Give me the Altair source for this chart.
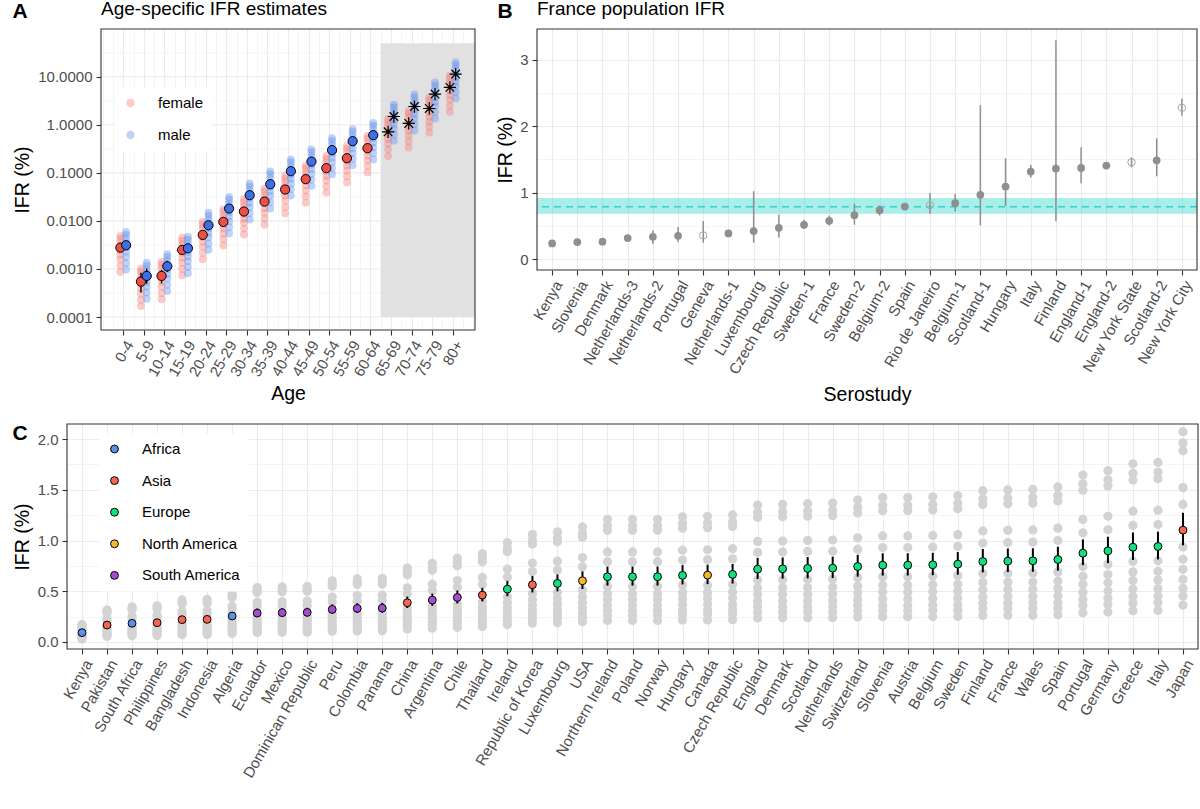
import altair as alt
import pandas as pd

FONT = "Liberation Sans"

# ---------------- Panel A : age-specific IFR ----------------
AGE_GROUPS = ["0-4", "5-9", "10-14", "15-19", "20-24", "25-29", "30-34", "35-39",
              "40-44", "45-49", "50-54", "55-59", "60-64", "65-69", "70-74", "75-79", "80+"]
# individual estimates as log10(IFR %)
A_FEMALE_LOG10 = [
    [-2.31, -2.37, -2.45, -2.53, -2.61, -2.70, -2.80, -2.93, -3.06],
    [-2.99, -3.05, -3.13, -3.22, -3.31, -3.40, -3.51, -3.64, -3.77],
    [-2.85, -2.91, -2.99, -3.08, -3.17, -3.26, -3.37, -3.50, -3.63],
    [-2.35, -2.41, -2.49, -2.58, -2.67, -2.76, -2.87, -3.00, -3.13],
    [-2.02, -2.08, -2.16, -2.25, -2.34, -2.43, -2.54, -2.67, -2.80],
    [-1.76, -1.82, -1.90, -1.98, -2.07, -2.16, -2.26, -2.38, -2.51],
    [-1.55, -1.61, -1.69, -1.77, -1.86, -1.95, -2.04, -2.16, -2.28],
    [-1.33, -1.39, -1.47, -1.55, -1.64, -1.73, -1.83, -1.95, -2.08],
    [-1.06, -1.12, -1.20, -1.29, -1.38, -1.47, -1.58, -1.71, -1.84],
    [-0.85, -0.91, -0.99, -1.08, -1.17, -1.26, -1.37, -1.49, -1.62],
    [-0.65, -0.71, -0.79, -0.88, -0.97, -1.06, -1.16, -1.28, -1.41],
    [-0.44, -0.50, -0.58, -0.67, -0.76, -0.85, -0.95, -1.07, -1.20],
    [-0.23, -0.29, -0.37, -0.46, -0.55, -0.64, -0.74, -0.86, -0.99],
    [0.12, 0.06, -0.02, -0.11, -0.20, -0.29, -0.39, -0.51, -0.65],
    [0.29, 0.23, 0.15, 0.06, -0.03, -0.12, -0.22, -0.34, -0.47],
    [0.57, 0.51, 0.43, 0.35, 0.26, 0.17, 0.07, -0.04, -0.16],
    [1.02, 0.96, 0.88, 0.80, 0.71, 0.62, 0.52, 0.40, 0.27],
]
A_MALE_LOG10 = [
    [-2.23, -2.29, -2.37, -2.46, -2.55, -2.64, -2.75, -2.88, -3.01],
    [-2.87, -2.93, -3.01, -3.09, -3.18, -3.27, -3.37, -3.49, -3.62],
    [-2.69, -2.75, -2.83, -2.92, -3.01, -3.10, -3.20, -3.33, -3.46],
    [-2.33, -2.39, -2.47, -2.56, -2.65, -2.74, -2.84, -2.96, -3.09],
    [-1.83, -1.89, -1.97, -2.06, -2.15, -2.24, -2.34, -2.47, -2.60],
    [-1.50, -1.56, -1.64, -1.73, -1.82, -1.91, -2.01, -2.13, -2.26],
    [-1.22, -1.28, -1.36, -1.44, -1.53, -1.62, -1.72, -1.84, -1.97],
    [-0.97, -1.03, -1.11, -1.20, -1.29, -1.38, -1.48, -1.61, -1.74],
    [-0.72, -0.78, -0.86, -0.94, -1.03, -1.12, -1.22, -1.34, -1.47],
    [-0.51, -0.57, -0.65, -0.74, -0.83, -0.92, -1.02, -1.14, -1.27],
    [-0.28, -0.34, -0.42, -0.50, -0.59, -0.68, -0.78, -0.90, -1.03],
    [-0.09, -0.15, -0.23, -0.31, -0.40, -0.49, -0.59, -0.71, -0.84],
    [0.04, -0.02, -0.10, -0.19, -0.28, -0.37, -0.47, -0.59, -0.72],
    [0.42, 0.36, 0.28, 0.20, 0.11, 0.02, -0.08, -0.20, -0.33],
    [0.63, 0.57, 0.49, 0.41, 0.32, 0.23, 0.13, 0.01, -0.12],
    [0.88, 0.82, 0.74, 0.66, 0.57, 0.48, 0.38, 0.26, 0.13],
    [1.30, 1.24, 1.16, 1.08, 0.99, 0.90, 0.80, 0.68, 0.55],
]
A_FEMALE_MED_LOG10 = [-2.556, -3.263, -3.145, -2.604, -2.291, -2.02, -1.805, -1.597, -1.347,
                      -1.131, -0.902, -0.695, -0.486, -0.146, 0.028, 0.34, 0.779]
A_FEMALE_LO_LOG10 = [-2.61, -3.49, -3.30, -2.69, -2.34, -2.07, -1.85, -1.64, -1.39,
                     -1.17, -0.94, -0.73, -0.52, -0.19, -0.01, 0.30, 0.74]
A_FEMALE_HI_LOG10 = [-2.50, -3.08, -3.02, -2.52, -2.25, -1.97, -1.76, -1.55, -1.30,
                     -1.09, -0.86, -0.66, -0.45, -0.10, 0.07, 0.38, 0.82]
A_MALE_MED_LOG10 = [-2.506, -3.145, -2.944, -2.569, -2.09, -1.742, -1.465, -1.236, -0.965,
                    -0.764, -0.527, -0.34, -0.215, 0.173, 0.381, 0.64, 1.056]
A_MALE_LO_LOG10 = [-2.56, -3.30, -3.06, -2.62, -2.13, -1.78, -1.50, -1.27, -1.00,
                   -0.80, -0.56, -0.37, -0.25, 0.13, 0.34, 0.60, 1.02]
A_MALE_HI_LOG10 = [-2.45, -2.99, -2.83, -2.52, -2.05, -1.70, -1.43, -1.20, -0.93,
                   -0.73, -0.49, -0.31, -0.18, 0.21, 0.42, 0.68, 1.09]
A_STAR_FROM = 13           # age groups 65+ are drawn with an asterisk
A_XDOMAIN = [-1.08, 17.08]
A_SHADE = {"x0": 12.5, "x1": 17.08, "y0": 0.0001, "y1": 50.0}   # shaded 65+ region

# ---------------- Panel B : France population IFR ----------------
B_STUDIES = ["Kenya", "Slovenia", "Denmark", "Netherlands-3", "Netherlands-2", "Portugal",
             "Geneva", "Netherlands-1", "Luxembourg", "Czech Republic", "Sweden-1", "France",
             "Sweden-2", "Belgium-2", "Spain", "Rio de Janeiro", "Belgium-1", "Scotland-1",
             "Hungary", "Italy", "Finland", "England-1", "England-2", "New York State",
             "Scotland-2", "New York City"]
B_IFR = [0.235, 0.255, 0.26, 0.315, 0.335, 0.35, 0.355, 0.385, 0.42, 0.47, 0.515, 0.575,
         0.66, 0.735, 0.79, 0.81, 0.84, 0.965, 1.09, 1.315, 1.36, 1.37, 1.405, 1.455, 1.485, 2.275]
B_LO = [0.215, 0.235, 0.24, 0.295, 0.23, 0.255, 0.245, 0.345, 0.245, 0.325, 0.455, 0.505,
        0.515, 0.655, 0.745, 0.68, 0.715, 0.505, 0.795, 1.225, 0.57, 1.14, 1.355, 1.38, 1.245, 2.155]
B_HI = [0.255, 0.275, 0.28, 0.335, 0.43, 0.48, 0.57, 0.43, 1.02, 0.665, 0.59, 0.655,
        0.83, 0.805, 0.83, 0.995, 0.98, 2.315, 1.515, 1.415, 3.29, 1.68, 1.455, 1.53, 1.815, 2.415]
B_OPEN = ["Geneva", "Rio de Janeiro", "New York State", "New York City"]
FRANCE_IFR, FRANCE_LO, FRANCE_HI = 0.786, 0.68, 0.917

# ---------------- Panel C : country IFR ----------------
C_COUNTRIES = ["Kenya", "Pakistan", "South Africa", "Philippines", "Bangladesh", "Indonesia",
               "Algeria", "Ecuador", "Mexico", "Dominican Republic", "Peru", "Colombia", "Panama",
               "China", "Argentina", "Chile", "Thailand", "Ireland", "Republic of Korea",
               "Luxembourg", "USA", "Northern Ireland", "Poland", "Norway", "Hungary", "Canada",
               "Czech Republic", "England", "Denmark", "Scotland", "Netherlands", "Switzerland",
               "Slovenia", "Austria", "Belgium", "Sweden", "Finland", "France", "Wales", "Spain",
               "Portugal", "Germany", "Greece", "Italy", "Japan"]
C_REGION = ["Africa", "Asia", "Africa", "Asia", "Asia", "Asia", "Africa", "South America",
            "South America", "South America", "South America", "South America", "South America",
            "Asia", "South America", "South America", "Asia", "Europe", "Asia", "Europe",
            "North America", "Europe", "Europe", "Europe", "Europe", "North America", "Europe",
            "Europe", "Europe", "Europe", "Europe", "Europe", "Europe", "Europe", "Europe",
            "Europe", "Europe", "Europe", "Europe", "Europe", "Europe", "Europe", "Europe",
            "Europe", "Asia"]
C_MEDIAN = [0.092, 0.167, 0.184, 0.19, 0.22, 0.223, 0.256, 0.285, 0.289, 0.292, 0.321, 0.331,
            0.334, 0.387, 0.413, 0.439, 0.462, 0.521, 0.564, 0.577, 0.603, 0.643, 0.643, 0.643,
            0.656, 0.659, 0.666, 0.718, 0.721, 0.725, 0.728, 0.744, 0.757, 0.757, 0.761, 0.767,
            0.793, 0.797, 0.80, 0.813, 0.875, 0.898, 0.934, 0.941, 1.102]
C_LO = [0.080, 0.144, 0.159, 0.164, 0.190, 0.193, 0.221, 0.247, 0.250, 0.253, 0.278, 0.286,
        0.289, 0.335, 0.357, 0.380, 0.400, 0.451, 0.488, 0.499, 0.522, 0.556, 0.556, 0.556,
        0.567, 0.570, 0.576, 0.621, 0.624, 0.627, 0.630, 0.644, 0.655, 0.655, 0.658, 0.663,
        0.686, 0.689, 0.692, 0.703, 0.757, 0.777, 0.808, 0.814, 0.953]
C_HI = [0.106, 0.193, 0.213, 0.219, 0.254, 0.258, 0.296, 0.329, 0.334, 0.337, 0.371, 0.382,
        0.386, 0.447, 0.477, 0.507, 0.534, 0.602, 0.651, 0.666, 0.696, 0.743, 0.743, 0.743,
        0.758, 0.761, 0.769, 0.829, 0.833, 0.837, 0.841, 0.859, 0.874, 0.874, 0.879, 0.886,
        0.916, 0.921, 0.924, 0.939, 1.011, 1.037, 1.079, 1.087, 1.273]
C_SCENARIOS = [
    [0.173, 0.164, 0.157, 0.127, 0.113, 0.078, 0.068, 0.060, 0.052, 0.044, 0.038, 0.030],
    [0.314, 0.297, 0.286, 0.230, 0.205, 0.142, 0.124, 0.109, 0.094, 0.080, 0.068, 0.055],
    [0.346, 0.328, 0.315, 0.254, 0.226, 0.156, 0.136, 0.120, 0.103, 0.088, 0.075, 0.061],
    [0.357, 0.338, 0.325, 0.262, 0.234, 0.162, 0.141, 0.124, 0.106, 0.091, 0.078, 0.063],
    [0.414, 0.392, 0.376, 0.304, 0.271, 0.187, 0.163, 0.143, 0.123, 0.106, 0.090, 0.073],
    [0.419, 0.397, 0.381, 0.308, 0.274, 0.190, 0.165, 0.145, 0.125, 0.107, 0.091, 0.074],
    [0.481, 0.456, 0.438, 0.353, 0.315, 0.218, 0.189, 0.166, 0.143, 0.123, 0.105, 0.084],
    [0.536, 0.507, 0.487, 0.393, 0.351, 0.242, 0.211, 0.185, 0.160, 0.137, 0.117, 0.094],
    [0.543, 0.514, 0.494, 0.399, 0.355, 0.246, 0.214, 0.188, 0.162, 0.139, 0.118, 0.095],
    [0.549, 0.520, 0.499, 0.403, 0.359, 0.248, 0.216, 0.190, 0.164, 0.140, 0.120, 0.096],
    [0.603, 0.571, 0.549, 0.443, 0.395, 0.273, 0.238, 0.209, 0.180, 0.154, 0.132, 0.106],
    [0.622, 0.589, 0.566, 0.457, 0.407, 0.281, 0.245, 0.215, 0.185, 0.159, 0.136, 0.109],
    [0.628, 0.595, 0.571, 0.461, 0.411, 0.284, 0.247, 0.217, 0.187, 0.160, 0.137, 0.110],
    [0.728, 0.689, 0.662, 0.534, 0.476, 0.329, 0.286, 0.252, 0.217, 0.186, 0.159, 0.128],
    [0.776, 0.735, 0.706, 0.570, 0.508, 0.351, 0.306, 0.268, 0.231, 0.198, 0.169, 0.136],
    [0.825, 0.781, 0.751, 0.606, 0.540, 0.373, 0.325, 0.285, 0.246, 0.211, 0.180, 0.145],
    [0.869, 0.822, 0.790, 0.638, 0.568, 0.393, 0.342, 0.300, 0.259, 0.222, 0.189, 0.152],
    [0.979, 0.927, 0.891, 0.719, 0.641, 0.443, 0.386, 0.339, 0.292, 0.250, 0.214, 0.172],
    [1.060, 1.004, 0.964, 0.778, 0.694, 0.479, 0.417, 0.367, 0.316, 0.271, 0.231, 0.186],
    [1.085, 1.027, 0.987, 0.796, 0.710, 0.490, 0.427, 0.375, 0.323, 0.277, 0.237, 0.190],
    [1.134, 1.073, 1.031, 0.832, 0.742, 0.513, 0.446, 0.392, 0.338, 0.289, 0.247, 0.199],
    [1.209, 1.145, 1.100, 0.887, 0.791, 0.547, 0.476, 0.418, 0.360, 0.309, 0.264, 0.212],
    [1.209, 1.145, 1.100, 0.887, 0.791, 0.547, 0.476, 0.418, 0.360, 0.309, 0.264, 0.212],
    [1.209, 1.145, 1.100, 0.887, 0.791, 0.547, 0.476, 0.418, 0.360, 0.309, 0.264, 0.212],
    [1.233, 1.168, 1.122, 0.905, 0.807, 0.558, 0.485, 0.426, 0.367, 0.315, 0.269, 0.216],
    [1.239, 1.173, 1.127, 0.909, 0.811, 0.560, 0.488, 0.428, 0.369, 0.316, 0.270, 0.217],
    [1.252, 1.185, 1.139, 0.919, 0.819, 0.566, 0.493, 0.433, 0.373, 0.320, 0.273, 0.220],
    [1.350, 1.278, 1.228, 0.991, 0.883, 0.610, 0.531, 0.467, 0.402, 0.345, 0.294, 0.237],
    [1.355, 1.283, 1.233, 0.995, 0.887, 0.613, 0.534, 0.469, 0.404, 0.346, 0.296, 0.238],
    [1.363, 1.291, 1.240, 1.001, 0.892, 0.616, 0.537, 0.471, 0.406, 0.348, 0.297, 0.239],
    [1.369, 1.296, 1.245, 1.005, 0.895, 0.619, 0.539, 0.473, 0.408, 0.349, 0.298, 0.240],
    [1.399, 1.324, 1.272, 1.027, 0.915, 0.632, 0.551, 0.484, 0.417, 0.357, 0.305, 0.246],
    [1.423, 1.347, 1.294, 1.045, 0.931, 0.643, 0.560, 0.492, 0.424, 0.363, 0.310, 0.250],
    [1.423, 1.347, 1.294, 1.045, 0.931, 0.643, 0.560, 0.492, 0.424, 0.363, 0.310, 0.250],
    [1.431, 1.355, 1.301, 1.050, 0.936, 0.647, 0.563, 0.495, 0.426, 0.365, 0.312, 0.251],
    [1.442, 1.365, 1.312, 1.058, 0.943, 0.652, 0.568, 0.499, 0.430, 0.368, 0.314, 0.253],
    [1.491, 1.412, 1.356, 1.094, 0.975, 0.674, 0.587, 0.515, 0.444, 0.381, 0.325, 0.262],
    [1.498, 1.419, 1.363, 1.100, 0.980, 0.677, 0.590, 0.518, 0.446, 0.383, 0.327, 0.263],
    [1.504, 1.424, 1.368, 1.104, 0.984, 0.680, 0.592, 0.520, 0.448, 0.384, 0.328, 0.264],
    [1.528, 1.447, 1.390, 1.122, 1.000, 0.691, 0.602, 0.528, 0.455, 0.390, 0.333, 0.268],
    [1.645, 1.558, 1.496, 1.208, 1.076, 0.744, 0.648, 0.569, 0.490, 0.420, 0.359, 0.289],
    [1.688, 1.598, 1.536, 1.239, 1.105, 0.763, 0.665, 0.584, 0.503, 0.431, 0.368, 0.296],
    [1.756, 1.663, 1.597, 1.289, 1.149, 0.794, 0.691, 0.607, 0.523, 0.448, 0.383, 0.308],
    [1.769, 1.675, 1.609, 1.299, 1.157, 0.800, 0.696, 0.612, 0.527, 0.452, 0.386, 0.311],
    [2.072, 1.962, 1.884, 1.521, 1.355, 0.937, 0.815, 0.716, 0.617, 0.529, 0.452, 0.364],
]
REGIONS = ["Africa", "Asia", "Europe", "North America", "South America"]
REGION_COLORS = ["#5B8FE8", "#F4664D", "#12E07C", "#F7B72D", "#A64CD2"]

# ---------------- styling / layout ----------------
GRID = "#EBEBEB"
TICKLAB = "#4D4D4D"
BORDER = "#333333"
GRID_MAJ, GRID_MIN = 1.1, 0.55
LAB = 15

A_INSET = 34              # panel A's frame starts this far right of its (shared) origin
A_W, A_H = 374, 301
B_W, B_H = 660, 241
C_W, C_H = 1131, 225


def tag(text, x, y, size, weight="normal"):
    return alt.Chart(pd.DataFrame({"t": [text]})).mark_text(
        align="left", baseline="alphabetic", font=FONT, fontSize=size,
        fontWeight=weight, color="black").encode(text="t:N", x=alt.value(x), y=alt.value(y))


def border(x0, x1, h):
    return alt.Chart(pd.DataFrame({"b": [0]})).mark_rect(
        fillOpacity=0, stroke=BORDER, strokeWidth=1.1).encode(
        x=alt.value(x0), x2=alt.value(x1), y=alt.value(0), y2=alt.value(h))


def cond(test, a, b):
    return {"condition": {"test": test, "value": a}, "value": b}

# ---------- Panel A ----------
rows = []
for i, age in enumerate(AGE_GROUPS):
    for v in A_FEMALE_LOG10[i]:
        rows.append({"i": i, "sex": "female", "ifr": 10 ** v})
    for v in A_MALE_LOG10[i]:
        rows.append({"i": i, "sex": "male", "ifr": 10 ** v})
a_pts = pd.DataFrame(rows)
med = []
for i, age in enumerate(AGE_GROUPS):
    med.append({"i": i, "sex": "female", "ifr": 10 ** A_FEMALE_MED_LOG10[i],
                "lo": 10 ** A_FEMALE_LO_LOG10[i], "hi": 10 ** A_FEMALE_HI_LOG10[i]})
    med.append({"i": i, "sex": "male", "ifr": 10 ** A_MALE_MED_LOG10[i],
                "lo": 10 ** A_MALE_LO_LOG10[i], "hi": 10 ** A_MALE_HI_LOG10[i]})
a_med = pd.DataFrame(med)
dodge = "datum.i + (datum.sex == 'female' ? -0.14 : 0.14)"

a_major_x = "datum.value >= 0 && datum.value <= 16 && datum.value == floor(datum.value)"
age_js = "[" + ",".join("'%s'" % a for a in AGE_GROUPS) + "]"
a_xaxis = alt.Axis(values=[k / 2 for k in range(-2, 35)], title="Age",
                   labelExpr="(%s) ? %s[datum.value] : ''" % (a_major_x, age_js),
                   labelAngle=-60, labelAlign="right", labelBaseline="top",
                   labelPadding=3, titlePadding=6, labelOverlap=False, labelFlush=False,
                   labelBound=False, labelFontSize=cond(a_major_x, LAB, 0),
                   gridWidth=cond(a_major_x, GRID_MAJ, GRID_MIN),
                   tickOpacity=cond(a_major_x, 1, 0))
A_YTICKS = [10 ** (k / 2) for k in range(-8, 4)]
a_major_y = "abs(log(datum.value)/LN10 - round(log(datum.value)/LN10)) < 0.01"
a_yaxis = alt.Axis(values=A_YTICKS, title="IFR (%)", offset=-A_INSET, grid=False,
                   labelExpr="(%s) ? format(datum.value, '.4f') : ''" % a_major_y,
                   labelOverlap=False, labelFlush=False, labelPadding=4, titlePadding=5,
                   labelFontSize=cond(a_major_y, LAB, 0),
                   tickOpacity=cond(a_major_y, 1, 0))
a_xscale = alt.Scale(domain=A_XDOMAIN, nice=False, zero=False, range=[A_INSET, A_INSET + A_W])
a_yscale = alt.Scale(type="log", domain=[10 ** -4.27, 10 ** 1.994], nice=False)


def AX(f):
    return alt.X(f, scale=a_xscale, axis=a_xaxis)


def AY(f):
    return alt.Y(f, scale=a_yscale, axis=a_yaxis)


a_grid_df = pd.DataFrame({"v": A_YTICKS})
a_test = a_major_y.replace("datum.value", "datum.v")
a_hgrid_major = alt.Chart(a_grid_df).transform_filter(a_test).mark_rule(
    color=GRID, strokeWidth=GRID_MAJ).encode(
    y=AY("v:Q"), x=alt.value(A_INSET), x2=alt.value(A_INSET + A_W))
a_hgrid_minor = alt.Chart(a_grid_df).transform_filter("!(%s)" % a_test).mark_rule(
    color=GRID, strokeWidth=GRID_MIN).encode(
    y=AY("v:Q"), x=alt.value(A_INSET), x2=alt.value(A_INSET + A_W))
a_shade = alt.Chart(pd.DataFrame([A_SHADE])).mark_rect(color="#E1E1E1").encode(
    x=AX("x0:Q"), x2="x1:Q", y=AY("y0:Q"), y2="y1:Q")
a_cloud = alt.Chart(a_pts).transform_calculate(x=dodge).mark_circle(size=62, opacity=0.4).encode(
    x=AX("x:Q"), y=AY("ifr:Q"),
    color=alt.Color("sex:N", scale=alt.Scale(domain=["female", "male"], range=["#F27C76", "#5F8EF0"]),
                    legend=alt.Legend(title=None, orient="none", legendX=14 + A_INSET, legendY=58.5,
                                      fillColor="white", padding=8, rowPadding=16,
                                      symbolType="circle", symbolSize=70, symbolOpacity=0.4,
                                      symbolStrokeWidth=0, labelFontSize=LAB, labelFont=FONT,
                                      labelColor="black", labelOffset=20)))
a_err = alt.Chart(a_med).transform_calculate(x=dodge).mark_rule(color="black", strokeWidth=1.4).encode(
    x=AX("x:Q"), y=AY("lo:Q"), y2="hi:Q")
a_dots = alt.Chart(a_med).transform_calculate(x=dodge).transform_filter(
    "datum.i < %d" % A_STAR_FROM).mark_point(shape="circle", filled=True, size=85, opacity=1,
                                             stroke="black", strokeWidth=1).encode(
    x=AX("x:Q"), y=AY("ifr:Q"),
    fill=alt.Fill("sex:N", scale=alt.Scale(domain=["female", "male"], range=["#EE5048", "#3E6FE6"]),
                  legend=None))
STAR = "M-1,0L1,0M0,-1L0,1M-0.7,-0.7L0.7,0.7M-0.7,0.7L0.7,-0.7"
a_star = alt.Chart(a_med).transform_calculate(x=dodge).transform_filter(
    "datum.i >= %d" % A_STAR_FROM).mark_point(shape=STAR, filled=False, size=150, color="black",
                                              strokeWidth=1.2, opacity=1).encode(
    x=AX("x:Q"), y=AY("ifr:Q"))
panel_a = alt.layer(a_hgrid_major, a_hgrid_minor, a_shade, a_cloud, a_err, a_dots, a_star,
                    border(A_INSET, A_INSET + A_W, A_H),
                    tag("A", A_INSET - 88.5, -11.5, 21, "bold"),
                    tag("Age-specific IFR estimates", A_INSET, -13.6, 19)).properties(
    width=A_INSET + A_W, height=A_H)

# ---------- Panel B ----------
b_df = pd.DataFrame({"study": B_STUDIES, "ifr": B_IFR, "lo": B_LO, "hi": B_HI,
                     "open": [s in B_OPEN for s in B_STUDIES]})
b_major_y = "datum.value == floor(datum.value)"
b_x = alt.X("study:N", sort=B_STUDIES, scale=alt.Scale(type="point", padding=0.6),
            axis=alt.Axis(title="Serostudy", labelAngle=-60, labelAlign="right", labelBaseline="top",
                          labelPadding=3, titlePadding=9, grid=True, gridWidth=GRID_MAJ,
                          labelOverlap=False))
b_yscale = alt.Scale(domain=[-0.165, 3.46], nice=False, zero=False)
b_yaxis = alt.Axis(values=[0, 0.5, 1, 1.5, 2, 2.5, 3], title="IFR (%)",
                   labelExpr="(%s) ? format(datum.value, 'd') : ''" % b_major_y,
                   labelPadding=4, titlePadding=4, labelOverlap=False, labelFlush=False,
                   labelFontSize=cond(b_major_y, LAB, 0),
                   gridWidth=cond(b_major_y, GRID_MAJ, GRID_MIN), tickOpacity=cond(b_major_y, 1, 0))


def BY(f):
    return alt.Y(f, scale=b_yscale, axis=b_yaxis)


band_df = pd.DataFrame({"ifr": [FRANCE_IFR], "lo": [FRANCE_LO], "hi": [FRANCE_HI]})
b_band = alt.Chart(band_df).mark_rect(color="#40D9CF", opacity=0.45).encode(
    x=alt.value(0), x2=alt.value(B_W), y=BY("lo:Q"), y2="hi:Q")
b_line = alt.Chart(band_df).mark_rule(color="#2FD4CC", strokeWidth=1.5, strokeDash=[7, 5]).encode(
    y=BY("ifr:Q"))
b_err = alt.Chart(b_df).mark_rule(color="#8F8F8F", strokeWidth=1.5).encode(
    x=b_x, y=BY("lo:Q"), y2="hi:Q")
b_fill = alt.Chart(b_df).transform_filter("!datum.open").mark_circle(
    size=60, color="#8F8F8F", opacity=1).encode(x=b_x, y=BY("ifr:Q"))
b_open = alt.Chart(b_df).transform_filter("datum.open").mark_point(
    shape="circle", filled=False, size=55, color="#A6A6A6", strokeWidth=1, opacity=1).encode(
    x=b_x, y=BY("ifr:Q"))
panel_b = alt.layer(b_band, b_line, b_err, b_fill, b_open, border(0, B_W, B_H),
                    tag("B", -39.5, -11.5, 21, "bold"),
                    tag("France population IFR", 0, -13.6, 19)).properties(width=B_W, height=B_H)

# ---------- Panel C ----------
c_rows = []
for k, c in enumerate(C_COUNTRIES):
    for v in C_SCENARIOS[k]:
        c_rows.append({"country": c, "ifr": v})
c_pts = pd.DataFrame(c_rows)
c_df = pd.DataFrame({"country": C_COUNTRIES, "region": C_REGION, "ifr": C_MEDIAN,
                     "lo": C_LO, "hi": C_HI})
C_YTICKS = [k / 4 for k in range(0, 9)]
c_major_y = "abs(datum.value*2 - round(datum.value*2)) < 0.001"
c_x = alt.X("country:N", sort=C_COUNTRIES, scale=alt.Scale(type="point", padding=0.6),
            axis=alt.Axis(title=None, labelAngle=-60, labelAlign="right", labelBaseline="top",
                          labelPadding=3, grid=True, gridWidth=GRID_MAJ, labelOverlap=False))
c_yscale = alt.Scale(domain=[-0.069, 2.148], nice=False, zero=False)
c_yaxis = alt.Axis(values=C_YTICKS, title="IFR (%)",
                   labelExpr="(%s) ? format(datum.value, '.1f') : ''" % c_major_y,
                   labelPadding=4, titlePadding=5, labelOverlap=False, labelFlush=False,
                   labelFontSize=cond(c_major_y, LAB, 0),
                   gridWidth=cond(c_major_y, GRID_MAJ, GRID_MIN),
                   tickOpacity=cond(c_major_y, 1, 0))


def CY(f):
    return alt.Y(f, scale=c_yscale, axis=c_yaxis)


c_cloud = alt.Chart(c_pts).mark_circle(size=85, color="#D3D3D3", opacity=1).encode(
    x=c_x, y=CY("ifr:Q"))
c_err = alt.Chart(c_df).mark_rule(color="black", strokeWidth=2).encode(
    x=c_x, y=CY("lo:Q"), y2="hi:Q")
c_dots = alt.Chart(c_df).mark_circle(size=62, opacity=1, stroke="black", strokeWidth=1).encode(
    x=c_x, y=CY("ifr:Q"),
    fill=alt.Fill("region:N", scale=alt.Scale(domain=REGIONS, range=REGION_COLORS),
                  legend=alt.Legend(title=None, orient="none", legendX=32, legendY=9.5,
                                    fillColor="white", padding=8, rowPadding=15.6,
                                    symbolType="circle", symbolSize=62, symbolStrokeColor="black",
                                    symbolStrokeWidth=1, labelFontSize=LAB, labelFont=FONT,
                                    labelColor="black", labelOffset=20)))
panel_c = alt.layer(c_cloud, c_err, c_dots, border(0, C_W, C_H),
                    tag("C", -54.5, 15.7, 21, "bold")).properties(width=C_W, height=C_H)

top_row = alt.hconcat(panel_a, panel_b, spacing=19).resolve_scale(
    color="independent", fill="independent")
chart = alt.vconcat(top_row, panel_c, spacing=18).resolve_scale(
    color="independent", fill="independent").properties(
    padding={"left": 12, "top": 0, "right": 0, "bottom": 0}, background="white"
).configure_view(strokeWidth=0).configure_axis(
    labelFont=FONT, labelFontSize=LAB, labelColor=TICKLAB, titleFont=FONT, titleFontSize=19.5,
    titleFontWeight="normal", titleColor="black", tickColor=BORDER, tickSize=5, tickWidth=1.1,
    domain=False, gridColor=GRID, labelOverlap=False)

chart.save("out.html", embed_options={"renderer": "svg", "actions": False})
